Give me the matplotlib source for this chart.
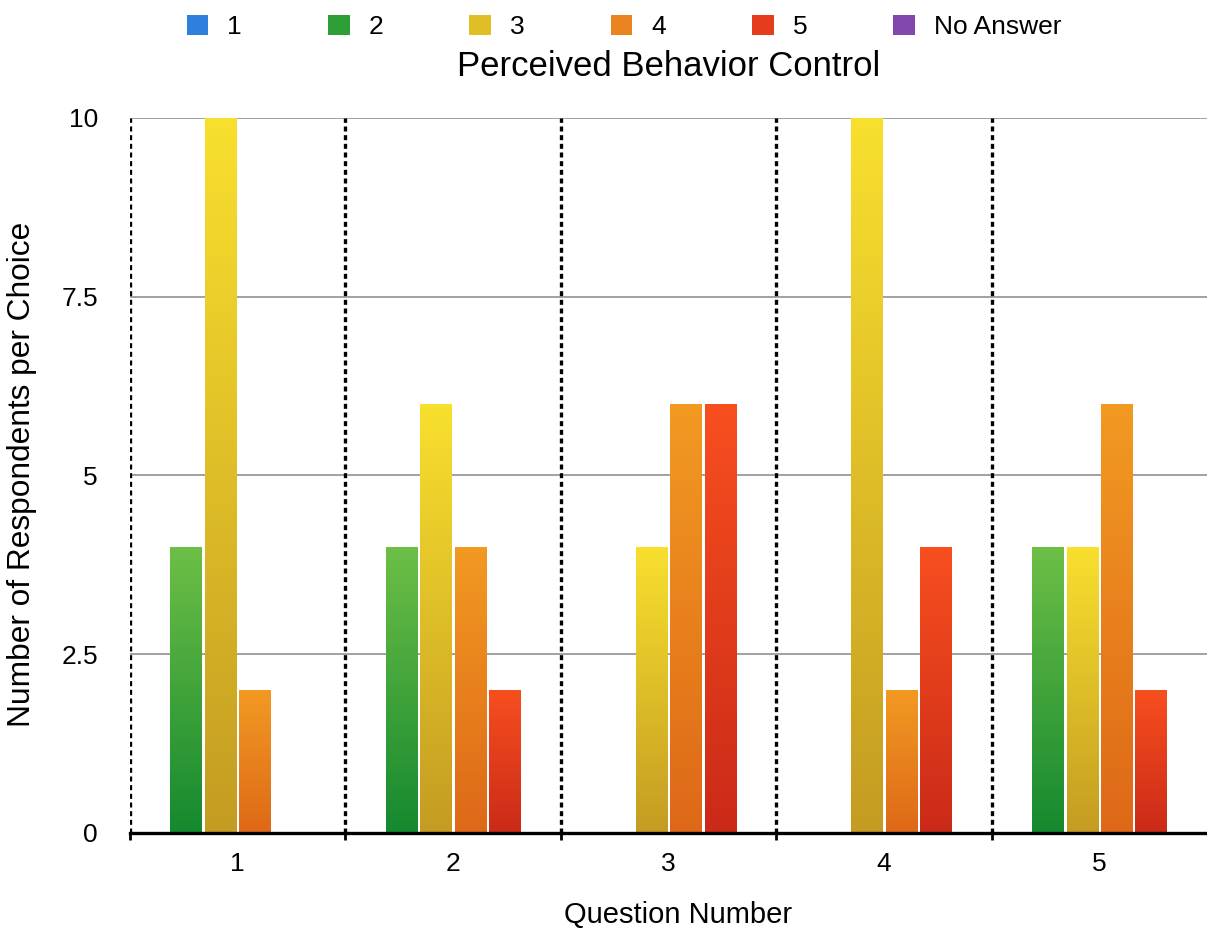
import matplotlib
matplotlib.use("Agg")
import matplotlib.pyplot as plt
import numpy as np
from matplotlib.colors import LinearSegmentedColormap
from matplotlib.patches import Patch

plt.rcParams['font.family'] = ['Liberation Sans', 'DejaVu Sans']

questions = [1, 2, 3, 4, 5]
choices = ['1', '2', '3', '4', '5', 'No Answer']

# respondents per choice for each question (rows = choice)
counts = {
    '1':         [0, 0, 0, 0, 0],
    '2':         [4, 4, 0, 0, 4],
    '3':         [10, 6, 4, 10, 4],
    '4':         [2, 4, 6, 2, 6],
    '5':         [0, 2, 6, 4, 2],
    'No Answer': [0, 0, 0, 0, 0],
}

# (top, bottom) colours of the gradient fill
grad_colors = {
    '1':         ('#4c9cea', '#1c62c6'),
    '2':         ('#6dbf46', '#15892f'),
    '3':         ('#f8e02e', '#c49c22'),
    '4':         ('#f29a22', '#de6818'),
    '5':         ('#f84f1f', '#ca2a18'),
    'No Answer': ('#9c5ec2', '#6c3a9a'),
}
legend_colors = {
    '1': '#2f7fdc', '2': '#2e9e36', '3': '#e0be26',
    '4': '#ea8420', '5': '#e43c1c', 'No Answer': '#8248ae',
}

fig = plt.figure(figsize=(12.07, 9.31), dpi=100)
ax = fig.add_axes([0.1077, 0.1053, 0.8923, 0.768])

pitch = 0.16
width = 0.144
x = np.array(questions, dtype=float)
grad = np.linspace(1, 0, 256).reshape(-1, 1)

for i, c in enumerate(choices):
    xs = x + (i - 2.5) * pitch
    bars = ax.bar(xs, counts[c], width, color='none', edgecolor='none', zorder=3)
    cmap = LinearSegmentedColormap.from_list(c, [grad_colors[c][1], grad_colors[c][0]])
    for b in bars:
        h = b.get_height()
        if h <= 0:
            continue
        x0 = b.get_x()
        im = ax.imshow(grad, cmap=cmap, extent=[x0, x0 + width, 0, h],
                       aspect='auto', zorder=3, interpolation='bilinear', vmin=0, vmax=1)
        im.set_clip_path(b)

ax.set_xlim(0.5, 5.5)
ax.set_ylim(0, 10)

# group separators
seps = np.arange(0.5, 5.5, 1.0)
for xv in seps:
    ax.axvline(xv, color='black', linestyle=(0, (1.5, 1.1)), linewidth=2.4, zorder=2)

ax.set_yticks([0, 2.5, 5, 7.5, 10])
ax.set_yticklabels(['0', '2.5', '5', '7.5', '10'])
ax.yaxis.grid(True, color='#9a9a9a', linewidth=1.3, zorder=1)
ax.set_axisbelow(True)
ax.set_xticks(questions)
ax.set_xticks(seps, minor=True)
ax.tick_params(axis='x', which='major', length=0, labelsize=19, pad=14)
ax.tick_params(axis='x', which='minor', length=5, width=2, color='black', direction='out')
ax.tick_params(axis='y', length=0, labelsize=19, pad=23)

for s in ['top', 'right', 'left']:
    ax.spines[s].set_visible(False)
ax.spines['bottom'].set_linewidth(2.4)
ax.spines['bottom'].set_zorder(5)

ax.set_xlabel('Question Number', fontsize=21, va='center')
ax.xaxis.set_label_coords(0.5085, -0.115)
ax.set_ylabel('Number of Respondents per Choice', fontsize=22.8, va='center')
ax.yaxis.set_label_coords(-0.1003, 0.502)

handles = [Patch(facecolor=legend_colors[c], edgecolor='none') for c in choices]
fig.legend(handles, choices, loc='center', bbox_to_anchor=(0.517, 0.971), ncol=6,
           frameon=False, fontsize=19, handlelength=0.83, handleheight=0.83,
           handletextpad=0.72, columnspacing=3.25)
fig.text(0.554, 0.929, 'Perceived Behavior Control', ha='center', va='center', fontsize=25)

fig.savefig('out.png', dpi=100)
